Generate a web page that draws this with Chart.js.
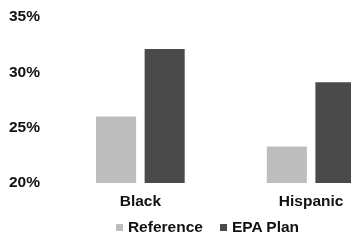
<!DOCTYPE html>
<html>
<head>
<meta charset="utf-8">
<script src="https://cdn.jsdelivr.net/npm/chart.js@4/dist/chart.umd.min.js"></script>
<style>
  html, body { margin: 0; padding: 0; background: #ffffff; overflow: hidden; width: 351px; height: 241px; }
  #wrap { position: relative; width: 415px; height: 241px; }
  #legend { position: absolute; left: 0; width: 415px; top: 218px; display: flex; justify-content: center; align-items: center;
            font: bold 15.5px "Liberation Sans", Arial, sans-serif; color: #111; line-height: 18px; }
  .item { display: flex; align-items: center; }
  .item + .item { margin-left: 17px; }
  .box { width: 7px; height: 7px; margin-right: 5px; }
</style>
</head>
<body>
<div id="wrap">
  <canvas id="c" width="415" height="241"></canvas>
  <div id="legend"></div>
</div>
<script>
const categories = ["Black", "Hispanic"];
const seriesNames = ["Reference", "EPA Plan"];
const referenceValues = [26.0, 23.3];
const epaPlanValues = [32.1, 29.1];
const yTicks = [20, 25, 30, 35];
const seriesColors = ["#bdbdbd", "#4a4a4a"];

const FONT = '"Liberation Sans", Arial, sans-serif';

function zeroPad(axis) {
  axis.paddingLeft = 0; axis.paddingRight = 0; axis.paddingTop = 0; axis.paddingBottom = 0;
}

const chart = new Chart(document.getElementById('c'), {
  type: 'bar',
  data: {
    labels: categories,
    datasets: [
      { label: seriesNames[0], data: referenceValues, backgroundColor: seriesColors[0], borderWidth: 0 },
      { label: seriesNames[1], data: epaPlanValues, backgroundColor: seriesColors[1], borderWidth: 0 }
    ]
  },
  options: {
    responsive: false,
    animation: false,
    devicePixelRatio: 1,
    layout: { padding: { left: 9, right: 18.5, top: 17, bottom: 31 } },
    datasets: { bar: { categoryPercentage: 0.569, barPercentage: 0.825 } },
    plugins: { legend: { display: false }, title: { display: false }, tooltip: { enabled: false } },
    scales: {
      x: {
        grid: { display: false, drawTicks: false },
        border: { display: false },
        ticks: { color: '#111', padding: 9, maxRotation: 0, font: { family: FONT, size: 15.5, weight: 'bold' } },
        afterFit: (axis) => { zeroPad(axis); axis.height = 27; }
      },
      y: {
        min: yTicks[0],
        max: yTicks[yTicks.length - 1],
        afterBuildTicks: (axis) => { axis.ticks = yTicks.map(v => ({ value: v })); },
        grid: { display: false, drawTicks: false },
        border: { display: false },
        ticks: { color: '#111', padding: 15, font: { family: FONT, size: 15.5, weight: 'bold' },
                 callback: (v) => v + '%' },
        afterFit: (axis) => { zeroPad(axis); axis.width = 46; }
      }
    }
  }
});

const legend = document.getElementById('legend');
chart.data.datasets.forEach((ds) => {
  const item = document.createElement('div');
  item.className = 'item';
  const box = document.createElement('span');
  box.className = 'box';
  box.style.background = ds.backgroundColor;
  const txt = document.createElement('span');
  txt.textContent = ds.label;
  item.appendChild(box);
  item.appendChild(txt);
  legend.appendChild(item);
});
</script>
</body>
</html>
